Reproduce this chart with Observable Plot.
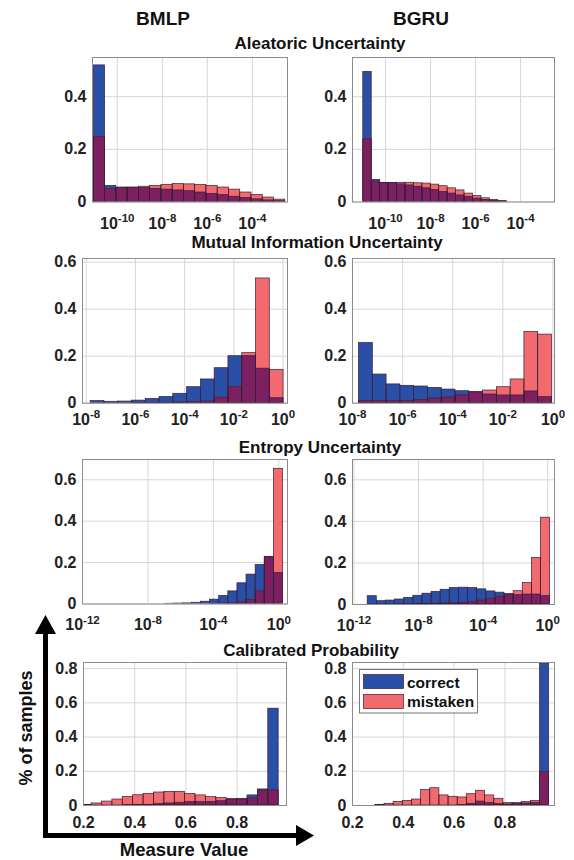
<!DOCTYPE html>
<html><head><meta charset="utf-8">
<script src="https://cdn.jsdelivr.net/npm/d3@7"></script>
<script src="https://cdn.jsdelivr.net/npm/@observablehq/plot@0.6"></script>
<style>
html,body{margin:0;padding:0;background:#fff;}
#root{position:relative;width:574px;height:860px;overflow:hidden;font-family:"Liberation Sans",Arial,sans-serif;}
.panel{position:absolute;}
#overlay{position:absolute;left:0;top:0;}
</style></head><body><div id="root"></div>
<script>
// ---------- DATA (bin heights, fraction of samples) ----------
// Aleatoric Uncertainty (log10 bins)
const aleBMLPStart = -11.04, aleBMLPWidth = 0.5;
const aleBMLPCorrect  = [0.519, 0.061, 0.055, 0.054, 0.053, 0.050, 0.047, 0.044, 0.041, 0.036, 0.031, 0.026, 0.020, 0.015, 0.010, 0.006, 0.003];
const aleBMLPMistaken = [0.247, 0.050, 0.053, 0.055, 0.058, 0.061, 0.065, 0.068, 0.067, 0.065, 0.061, 0.055, 0.047, 0.036, 0.027, 0.017, 0.009];
const aleBGRUStart = -10.99, aleBGRUWidth = 0.375;
const aleBGRUCorrect  = [0.494, 0.084, 0.073, 0.072, 0.067, 0.063, 0.058, 0.052, 0.046, 0.038, 0.032, 0.025, 0.019, 0.013, 0.008, 0.004, 0.002];
const aleBGRUMistaken = [0.238, 0.077, 0.071, 0.072, 0.073, 0.073, 0.071, 0.070, 0.066, 0.060, 0.052, 0.044, 0.032, 0.023, 0.014, 0.008, 0.004];
// Mutual Information Uncertainty
const miBMLPStart = -7.82, miBMLPWidth = 0.56;
const miBMLPCorrect  = [0.009, 0.006, 0.007, 0.011, 0.018, 0.026, 0.040, 0.068, 0.101, 0.149, 0.200, 0.200, 0.147, 0.021];
const miBMLPMistaken = [0.000, 0.000, 0.000, 0.001, 0.001, 0.002, 0.003, 0.005, 0.007, 0.023, 0.068, 0.213, 0.531, 0.142];
const miBGRUStart = -7.74, miBGRUWidth = 0.55;
const miBGRUCorrect  = [0.256, 0.122, 0.080, 0.074, 0.071, 0.065, 0.058, 0.051, 0.046, 0.037, 0.033, 0.033, 0.050, 0.026];
const miBGRUMistaken = [0.009, 0.009, 0.008, 0.010, 0.014, 0.020, 0.024, 0.033, 0.047, 0.054, 0.068, 0.101, 0.303, 0.292];
// Entropy Uncertainty
const entBMLPStart = -12.0, entBMLPWidth = 0.557;
const entBMLPCorrect  = [0, 0, 0, 0, 0, 0, 0, 0, 0, 0.001, 0.002, 0.003, 0.006, 0.011, 0.021, 0.039, 0.061, 0.100, 0.142, 0.189, 0.228, 0.150];
const entBMLPMistaken = [0, 0, 0, 0, 0, 0, 0, 0, 0, 0, 0, 0, 0, 0, 0.001, 0.002, 0.003, 0.008, 0.019, 0.061, 0.225, 0.653];
const entBGRUStart = -11.15, entBGRUWidth = 0.565;
const entBGRUCorrect  = [0.040, 0.016, 0.019, 0.024, 0.032, 0.042, 0.052, 0.061, 0.071, 0.079, 0.081, 0.079, 0.073, 0.063, 0.057, 0.050, 0.045, 0.048, 0.048, 0.040];
const entBGRUMistaken = [0, 0, 0, 0.001, 0.001, 0.002, 0.003, 0.004, 0.005, 0.006, 0.008, 0.012, 0.019, 0.027, 0.035, 0.047, 0.064, 0.103, 0.224, 0.418];
// Calibrated Probability (linear bins)
const calBMLPStart = 0.191, calBMLPWidth = 0.0406;
const calBMLPCorrect  = [0, 0, 0, 0, 0.002, 0.003, 0.004, 0.008, 0.012, 0.016, 0.020, 0.020, 0.021, 0.025, 0.035, 0.039, 0.059, 0.094, 0.566];
const calBMLPMistaken = [0.004, 0.012, 0.023, 0.035, 0.049, 0.060, 0.068, 0.076, 0.080, 0.080, 0.068, 0.059, 0.049, 0.043, 0.037, 0.035, 0.041, 0.086, 0.088];
const calBGRUStart = 0.29, calBGRUWidth = 0.036;
const calBGRUCorrect  = [0, 0, 0, 0, 0, 0, 0, 0, 0, 0.002, 0.010, 0.023, 0.014, 0.008, 0.006, 0.010, 0.012, 0.016, 0.829];
const calBGRUMistaken = [0.004, 0.010, 0.021, 0.027, 0.035, 0.090, 0.101, 0.059, 0.051, 0.047, 0.066, 0.086, 0.059, 0.039, 0.014, 0.014, 0.020, 0.027, 0.195];

// tick labels / text
const modelNames = ["BMLP", "BGRU"];
const sectionTitles = ["Aleatoric Uncertainty", "Mutual Information Uncertainty", "Entropy Uncertainty", "Calibrated Probability"];
const seriesNames = ["correct", "mistaken"];
const aleXTicks = [-10, -8, -6, -4];
const miXTicks = [-8, -6, -4, -2, 0];
const entXTicks = [-12, -8, -4, 0];
const calXTicks = [0.2, 0.4, 0.6, 0.8];
const aleYTicks = [0, 0.2, 0.4];
const miYTicks = [0, 0.2, 0.4, 0.6];
const entYTicks = [0, 0.2, 0.4, 0.6];
const calYTicks = [0, 0.2, 0.4, 0.6, 0.8];
const yAxisLabel = "% of samples";
const xAxisLabel = "Measure Value";

// ---------- STYLE ----------
const BLUE = "#2a4fa7", RED = "#f26a6e", PURPLE = "#7d2062", EDGE = "#3b1d35";
const FONT = '"Liberation Sans", Arial, Helvetica, sans-serif';
const NS = "http://www.w3.org/2000/svg";
const root = document.getElementById("root");

function panel(cfg) {
  const mL = 50, mR = 16, mT = 6, mB = 36;
  const w = cfg.R - cfg.L, h = cfg.B - cfg.T;
  const conv = e => cfg.log ? Math.pow(10, e) : e;
  const rows = cfg.correct.map((c, i) => {
    const e1 = cfg.start + i * cfg.width, e2 = e1 + cfg.width;
    const m = cfg.mistaken[i];
    return {x1: conv(e1), x2: conv(e2), c, m, o: Math.min(c, m), zero: 0};
  });
  const xTicks = cfg.xTicks.map(conv);
  const fmtX = cfg.log ? d => "10^" + Math.round(Math.log10(d)) : d => d.toFixed(1);
  const fmtY = d => d === 0 ? "0" : d.toFixed(1);
  const svg = Plot.plot({
    width: w + mL + mR, height: h + mT + mB,
    marginLeft: mL, marginRight: mR, marginTop: mT, marginBottom: mB,
    style: {fontFamily: FONT, fontSize: "16px", fontWeight: "bold", color: "#222", background: "transparent", overflow: "visible"},
    x: {type: cfg.log ? "log" : "linear", domain: cfg.xDomain.map(conv)},
    y: {domain: cfg.yDomain},
    marks: [
      Plot.gridX({ticks: xTicks, stroke: "#d6d6d6", strokeOpacity: 1}),
      Plot.gridY({ticks: cfg.yTicks, stroke: "#d6d6d6", strokeOpacity: 1}),
      Plot.rect(rows.filter(d => d.c > 0), {x1: "x1", x2: "x2", y1: "zero", y2: "c", fill: BLUE, clip: true}),
      Plot.rect(rows.filter(d => d.m > 0), {x1: "x1", x2: "x2", y1: "zero", y2: "m", fill: RED, clip: true}),
      Plot.rect(rows.filter(d => d.o > 0), {x1: "x1", x2: "x2", y1: "zero", y2: "o", fill: PURPLE, clip: true}),
      Plot.rect(rows.filter(d => d.c > 0), {x1: "x1", x2: "x2", y1: "zero", y2: "c", fill: "none", stroke: EDGE, strokeWidth: 0.7, clip: true}),
      Plot.rect(rows.filter(d => d.m > 0), {x1: "x1", x2: "x2", y1: "zero", y2: "m", fill: "none", stroke: EDGE, strokeWidth: 0.7, clip: true}),
      Plot.axisX({ticks: xTicks, tickSize: 0, tickPadding: cfg.xPad, tickFormat: fmtX, label: null}),
      Plot.axisY({ticks: cfg.yTicks, tickSize: 0, tickPadding: 6, tickFormat: fmtY, label: null}),
      Plot.frame({stroke: "#8c8c8c"})
    ]
  });
  svg.querySelectorAll("text").forEach(t => {
    const m = /^10\^(.+)$/.exec(t.textContent);
    if (m) {
      t.textContent = "10";
      const ts = document.createElementNS(NS, "tspan");
      ts.setAttribute("dy", "-6.5");
      ts.setAttribute("font-size", "11.5");
      ts.textContent = m[1];
      t.appendChild(ts);
    }
  });
  const div = document.createElement("div");
  div.className = "panel";
  div.style.left = (cfg.L - mL) + "px";
  div.style.top = (cfg.T - mT) + "px";
  div.appendChild(svg);
  root.appendChild(div);
}

panel({L: 92, R: 287, T: 57, B: 201.5, log: true, start: aleBMLPStart, width: aleBMLPWidth, correct: aleBMLPCorrect, mistaken: aleBMLPMistaken,
  xDomain: [-11.1, -2.44], xTicks: aleXTicks, yDomain: [0, 0.549], yTicks: aleYTicks, xPad: 15.5});
panel({L: 352, R: 554, T: 57, B: 201.5, log: true, start: aleBGRUStart, width: aleBGRUWidth, correct: aleBGRUCorrect, mistaken: aleBGRUMistaken,
  xDomain: [-11.47, -2.49], xTicks: aleXTicks, yDomain: [0, 0.549], yTicks: aleYTicks, xPad: 15.5});
panel({L: 82, R: 287, T: 258, B: 402.7, log: true, start: miBMLPStart, width: miBMLPWidth, correct: miBMLPCorrect, mistaken: miBMLPMistaken,
  xDomain: [-8.15, 0.18], xTicks: miXTicks, yDomain: [0, 0.616], yTicks: miYTicks, xPad: 10});
panel({L: 352, R: 554, T: 258, B: 402.7, log: true, start: miBGRUStart, width: miBGRUWidth, correct: miBGRUCorrect, mistaken: miBGRUMistaken,
  xDomain: [-8, 0.06], xTicks: miXTicks, yDomain: [0, 0.616], yTicks: miYTicks, xPad: 10});
panel({L: 82, R: 287, T: 459, B: 603.5, log: true, start: entBMLPStart, width: entBMLPWidth, correct: entBMLPCorrect, mistaken: entBMLPMistaken,
  xDomain: [-12, 0.53], xTicks: entXTicks, yDomain: [0, 0.698], yTicks: entYTicks, xPad: 15});
panel({L: 352, R: 554, T: 459, B: 604, log: true, start: entBGRUStart, width: entBGRUWidth, correct: entBGRUCorrect, mistaken: entBGRUMistaken,
  xDomain: [-12.09, 0.42], xTicks: entXTicks, yDomain: [0, 0.698], yTicks: entYTicks, xPad: 15});
panel({L: 83, R: 286, T: 662, B: 805, log: false, start: calBMLPStart, width: calBMLPWidth, correct: calBMLPCorrect, mistaken: calBMLPMistaken,
  xDomain: [0.2, 0.993], xTicks: calXTicks, yDomain: [0, 0.836], yTicks: calYTicks, xPad: 11});
panel({L: 352, R: 554, T: 662, B: 805, log: false, start: calBGRUStart, width: calBGRUWidth, correct: calBGRUCorrect, mistaken: calBGRUMistaken,
  xDomain: [0.2, 0.995], xTicks: calXTicks, yDomain: [0, 0.836], yTicks: calYTicks, xPad: 11});

// ---------- overlay: titles, arrows, legend ----------
const ov = document.createElementNS(NS, "svg");
ov.setAttribute("id", "overlay");
ov.setAttribute("width", 574); ov.setAttribute("height", 860);
ov.style.fontFamily = FONT; ov.style.fontWeight = "bold";
function el(tag, attrs, text) {
  const e = document.createElementNS(NS, tag);
  for (const k in attrs) e.setAttribute(k, attrs[k]);
  if (text != null) e.textContent = text;
  ov.appendChild(e);
  return e;
}
el("text", {x: 163, y: 25, "text-anchor": "middle", "font-size": 19, fill: "#111"}, modelNames[0]);
el("text", {x: 421, y: 25, "text-anchor": "middle", "font-size": 19, fill: "#111"}, modelNames[1]);
el("text", {x: 320, y: 48.5, "text-anchor": "middle", "font-size": 17, fill: "#111"}, sectionTitles[0]);
el("text", {x: 317, y: 248, "text-anchor": "middle", "font-size": 17, fill: "#111"}, sectionTitles[1]);
el("text", {x: 320, y: 453, "text-anchor": "middle", "font-size": 17, fill: "#111"}, sectionTitles[2]);
el("text", {x: 311, y: 656, "text-anchor": "middle", "font-size": 17, fill: "#111"}, sectionTitles[3]);
el("text", {x: 0, y: 0, "text-anchor": "middle", "font-size": 18, fill: "#111", transform: "translate(32,728) rotate(-90)"}, yAxisLabel);
el("text", {x: 184, y: 856, "text-anchor": "middle", "font-size": 18.5, fill: "#111"}, xAxisLabel);
// arrows
el("line", {x1: 45.5, y1: 838, x2: 45.5, y2: 630, stroke: "#000", "stroke-width": 5});
el("polygon", {points: "45.5,615 35,634 56,634", fill: "#000"});
el("line", {x1: 43, y1: 835.5, x2: 300, y2: 835.5, stroke: "#000", "stroke-width": 5});
el("polygon", {points: "314,835.5 296,825 296,846", fill: "#000"});
// legend
el("rect", {x: 359.5, y: 669.5, width: 118, height: 43.5, fill: "#fff", stroke: "#777", "stroke-width": 1});
el("rect", {x: 363.5, y: 674.5, width: 40, height: 14, fill: BLUE, stroke: EDGE, "stroke-width": 0.7});
el("rect", {x: 363.5, y: 694.5, width: 40, height: 14, fill: RED, stroke: EDGE, "stroke-width": 0.7});
el("text", {x: 407, y: 688, "font-size": 15.5, fill: "#111"}, seriesNames[0]);
el("text", {x: 407, y: 707, "font-size": 15.5, fill: "#111"}, seriesNames[1]);
root.appendChild(ov);
</script>
</body></html>
